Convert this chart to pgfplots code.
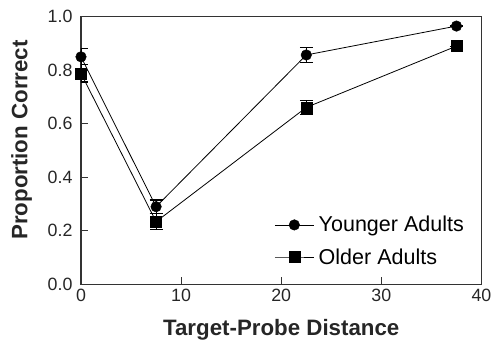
\documentclass[border=0pt]{standalone}
\usepackage{pgfplots}
\pgfplotsset{compat=1.18}
\usepackage{fontspec}
\setmainfont{Liberation Sans}
\definecolor{axc}{HTML}{333333}
\begin{document}
\begin{tikzpicture}
\path[use as bounding box] (-81pt,-57.7pt) rectangle (411pt,284.3pt);
\begin{axis}[
  at={(0pt,0pt)}, anchor=south west,
  scale only axis, width=400.5pt, height=267.6pt,
  xmin=0, xmax=40, ymin=0, ymax=1,
  xtick={0,10,20,30,40}, ytick={0,0.2,0.4,0.6,0.8,1.0},
  tick align=inside, tick pos=left, major tick length=7pt,
  major tick style={line width=1pt, color=axc},
  axis line style={line width=1.3pt, color=axc},
  yticklabel style={/pgf/number format/fixed, /pgf/number format/fixed zerofill, /pgf/number format/precision=1, xshift=-5pt},
  /pgf/number format/assume math mode=true,
  ticklabel style={font=\fontsize{17.8}{20}\selectfont, color=black!85},
  xticklabel style={yshift=-1pt},
  label style={font=\bfseries\fontsize{22.3}{26}\selectfont, color=black!85},
  xlabel={Target-Probe Distance}, ylabel={Proportion Correct},
  xlabel style={at={(axis description cs:0.5,-0.192)}, anchor=base},
  ylabel style={at={(axis description cs:-0.1336,0.539)}, anchor=base},
  legend style={draw=none, fill=none, font=\fontsize{21.5}{25}\selectfont,
    at={(axis cs:19.3,0.262)}, anchor=north west, row sep=11pt,
    inner xsep=0pt, inner ysep=0pt,
    /tikz/every odd column/.append style={column sep=2.5pt}},
  legend cell align=left,
  legend image code/.code={\draw[mark repeat=2,mark phase=2,#1] plot coordinates {(0pt,0pt)(19.5pt,0pt)(39pt,0pt)};},
]
\addplot[black, line width=0.8pt, mark=*, mark size=5.3pt, mark options={line width=0.4pt},
  error bars/.cd, y dir=both, y explicit,
  error bar style={line width=1.1pt},
  error mark options={rotate=90, mark size=6.5pt, line width=1.2pt}]
  coordinates {
  (0,0.850) +- (0,0.030)
  (7.5,0.290) +- (0,0.025)
  (22.5,0.857) +- (0,0.029)
  (37.5,0.965) +- (0,0.0)
  };
\addlegendentry{Younger Adults}
\addplot[black, line width=0.8pt, mark=square*, mark size=5.5pt, mark options={line width=0.4pt},
  error bars/.cd, y dir=both, y explicit,
  error bar style={line width=1.1pt},
  error mark options={rotate=90, mark size=6.5pt, line width=1.2pt}]
  coordinates {
  (0,0.788) +- (0,0.032)
  (7.5,0.234) +- (0,0.030)
  (22.5,0.661) +- (0,0.027)
  (37.5,0.890) +- (0,0.0)
  };
\addlegendentry{Older Adults}
\end{axis}
\end{tikzpicture}
\end{document}
